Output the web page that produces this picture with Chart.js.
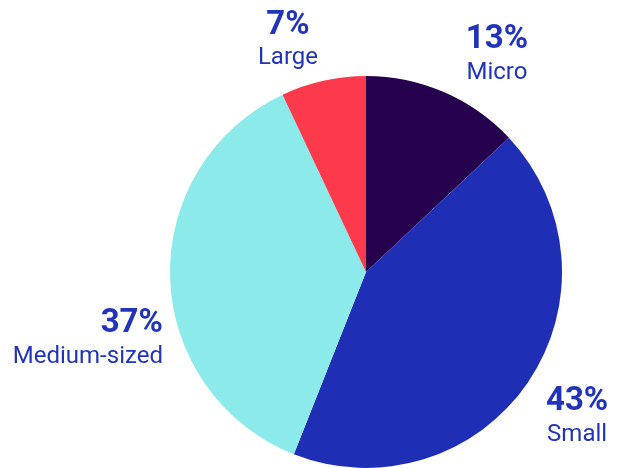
<!DOCTYPE html>
<html>
<head>
<meta charset="utf-8">
<script src="https://cdn.jsdelivr.net/npm/chart.js@4"></script>
<style>
html,body{margin:0;padding:0;background:#fff;}
#wrap{width:622px;height:468px;position:relative;}
</style>
</head>
<body>
<div id="wrap"><canvas id="c" width="622" height="468"></canvas></div>
<script>
const categories = ["Micro", "Small", "Medium-sized", "Large"];
const shares = [13, 43, 37, 7];
const sliceColors = ["#25004d", "#1f2fb5", "#8deaea", "#fd3a4b"];
const labelColor = "#2234b9";
// label anchors relative to pie center, in units of radius
const labelAnchors = [
  {dx: 0.668, dy: -1.184, align: "center"},
  {dx: 1.077, dy: 0.663, align: "center"},
  {dx: -1.036, dy: 0.265, align: "right"},
  {dx: -0.398, dy: -1.258, align: "center"}
];

const labelPlugin = {
  id: "outLabels",
  afterDatasetsDraw(chart) {
    const ctx = chart.ctx;
    const meta = chart.getDatasetMeta(0);
    meta.data.forEach((arc, i) => {
      const r = arc.outerRadius;
      const a = labelAnchors[i];
      const x = arc.x + a.dx * r;
      const y = arc.y + a.dy * r;
      ctx.save();
      ctx.fillStyle = labelColor;
      ctx.textAlign = a.align;
      ctx.textBaseline = "middle";
      ctx.font = "bold 33px Roboto";
      ctx.fillText(shares[i] + "%", x, y);
      ctx.font = "24px Roboto";
      ctx.fillText(categories[i], x, y + 33);
      ctx.restore();
    });
  }
};

new Chart(document.getElementById("c"), {
  type: "pie",
  data: {
    labels: categories,
    datasets: [{
      data: shares,
      backgroundColor: sliceColors,
      borderWidth: 0
    }]
  },
  options: {
    responsive: false,
    animation: false,
    layout: {padding: {left: 170, right: 60, top: 76, bottom: 0}},
    plugins: {legend: {display: false}, tooltip: {enabled: false}}
  },
  plugins: [labelPlugin]
});
</script>
</body>
</html>
